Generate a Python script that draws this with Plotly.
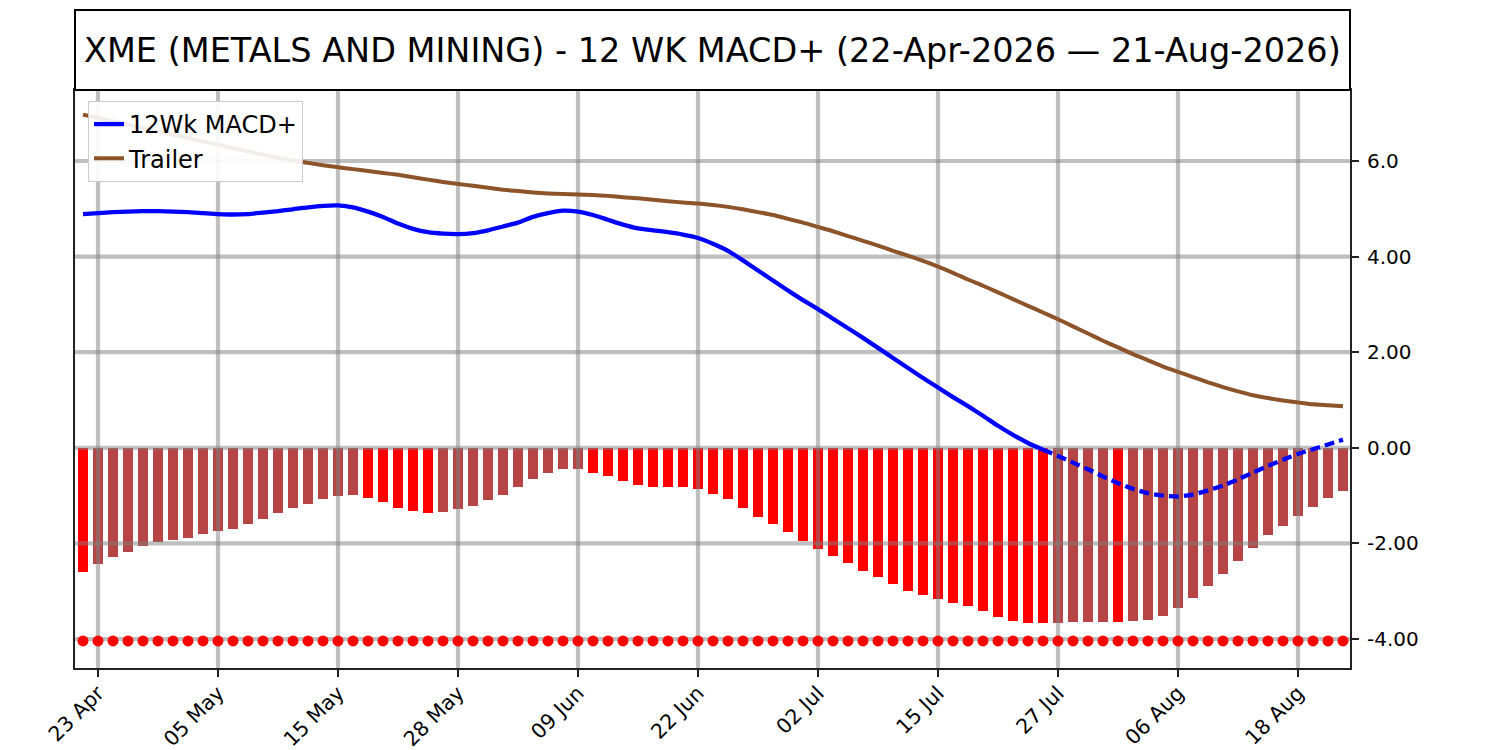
import pandas as pd
import plotly.graph_objects as go

# trading days 22 Apr - 21 Aug 2026 (market holidays removed)
holidays = ["2026-05-25", "2026-06-19", "2026-07-03"]
dates = pd.bdate_range("2026-04-22", "2026-08-21")
dates = dates[~dates.isin(pd.to_datetime(holidays))]

macd = [4.89, 4.91, 4.93, 4.94, 4.95, 4.95, 4.94, 4.93, 4.91, 4.89,
        4.88, 4.89, 4.92, 4.95, 4.99, 5.03, 5.06, 5.07, 5.03, 4.94,
        4.83, 4.69, 4.58, 4.51, 4.48, 4.47, 4.49, 4.55, 4.63, 4.71,
        4.83, 4.91, 4.96, 4.94, 4.87, 4.77, 4.67, 4.59, 4.55, 4.51,
        4.46, 4.39, 4.27, 4.12, 3.92, 3.71, 3.50, 3.29, 3.09, 2.90,
        2.70, 2.50, 2.30, 2.09, 1.88, 1.67, 1.46, 1.26, 1.06, 0.87,
        0.67, 0.46, 0.27, 0.10, -0.04, -0.17, -0.31, -0.45, -0.60, -0.74,
        -0.86, -0.95, -1.00, -1.02, -0.98, -0.89, -0.79, -0.66, -0.52, -0.38,
        -0.25, -0.13, -0.03, 0.07, 0.17]

trailer = [6.97, 6.90, 6.83, 6.76, 6.69, 6.62, 6.55, 6.48, 6.41, 6.34,
           6.27, 6.20, 6.13, 6.07, 6.01, 5.96, 5.91, 5.87, 5.83, 5.79,
           5.75, 5.71, 5.66, 5.61, 5.56, 5.52, 5.48, 5.44, 5.40, 5.37,
           5.34, 5.32, 5.31, 5.30, 5.29, 5.27, 5.24, 5.22, 5.19, 5.16,
           5.13, 5.11, 5.08, 5.04, 4.99, 4.93, 4.87, 4.79, 4.71, 4.62,
           4.53, 4.43, 4.33, 4.23, 4.12, 4.02, 3.91, 3.79, 3.66, 3.52,
           3.39, 3.25, 3.11, 2.97, 2.83, 2.69, 2.54, 2.39, 2.24, 2.10,
           1.96, 1.83, 1.70, 1.59, 1.48, 1.37, 1.27, 1.18, 1.10, 1.04,
           0.99, 0.95, 0.91, 0.89, 0.87]

hist = [-2.59, -2.44, -2.29, -2.17, -2.06, -1.98, -1.92, -1.88, -1.81, -1.75,
        -1.69, -1.60, -1.48, -1.37, -1.27, -1.17, -1.08, -1.00, -0.99, -1.04,
        -1.14, -1.25, -1.33, -1.37, -1.35, -1.29, -1.21, -1.10, -0.98, -0.81,
        -0.66, -0.52, -0.45, -0.44, -0.52, -0.60, -0.70, -0.77, -0.81, -0.82,
        -0.83, -0.87, -0.96, -1.08, -1.25, -1.44, -1.60, -1.77, -1.94, -2.11,
        -2.27, -2.42, -2.57, -2.71, -2.86, -2.99, -3.09, -3.17, -3.24, -3.32,
        -3.42, -3.55, -3.63, -3.665, -3.675, -3.67, -3.65, -3.645, -3.64, -3.645,
        -3.63, -3.61, -3.51, -3.36, -3.15, -2.90, -2.65, -2.36, -2.09, -1.83,
        -1.63, -1.42, -1.23, -1.06, -0.91]

signal_level = -4.04
dash_from = 64  # projected part of the MACD line

y_ticks = [6, 4, 2, 0, -2, -4]
y_labels = ["6.0", "4.00", "2.00", "0.00", "-2.00", "-4.00"]

x = list(range(len(dates)))
tick_idx = x[1::8]
tick_text = [dates[i].strftime("%d %b") for i in tick_idx]

x_range = [-0.533, 84.467]
y_range = [-4.607, 7.485]

# falling bars red, rising bars brown
bar_colors = []
for i, v in enumerate(hist):
    if i == 0 or v < hist[i - 1]:
        bar_colors.append("#ff0000")
    else:
        bar_colors.append("#b84545")

fig = go.Figure()

fig.add_trace(go.Bar(x=x, y=hist, width=0.72, marker_color=bar_colors,
                     marker_line_width=0, showlegend=False, hoverinfo="skip"))

# grid drawn over the bars, under the lines
gx, gy = [], []
for t in tick_idx:
    gx += [t, t, None]
    gy += [y_range[0], y_range[1], None]
hx, hy = [], []
for v in y_ticks:
    hx += [x_range[0], x_range[1], None]
    hy += [v, v, None]
grid_style = dict(color="rgba(128,128,128,0.5)", width=4.2)
fig.add_trace(go.Scatter(x=gx, y=gy, mode="lines", line=grid_style,
                         showlegend=False, hoverinfo="skip"))
fig.add_trace(go.Scatter(x=hx, y=hy, mode="lines", line=grid_style,
                         showlegend=False, hoverinfo="skip"))

fig.add_trace(go.Scatter(x=x, y=[signal_level] * len(x), mode="markers",
                         marker=dict(color="#ff0000", size=11),
                         showlegend=False, hoverinfo="skip"))

fig.add_trace(go.Scatter(x=x, y=trailer, mode="lines", name="Trailer",
                         line=dict(color="#8c5428", width=4, shape="spline", smoothing=0.6),
                         legendrank=2))
fig.add_trace(go.Scatter(x=x[:dash_from + 1], y=macd[:dash_from + 1], mode="lines",
                         name="12Wk MACD+",
                         line=dict(color="#0000ff", width=4.3, shape="spline", smoothing=0.6),
                         legendrank=1))
fig.add_trace(go.Scatter(x=x[dash_from:], y=macd[dash_from:], mode="lines",
                         line=dict(color="#0000ff", width=4.3, dash="10px,5px",
                                   shape="spline", smoothing=0.6),
                         showlegend=False))

title = "XME (METALS AND MINING) - 12 WK MACD+ (22-Apr-2026 \u2014 21-Aug-2026)"
box_top = 1 + 80 / 578
fig.add_shape(type="rect", xref="paper", yref="paper", x0=0, x1=1, y0=1, y1=box_top,
              line=dict(color="#000000", width=2), fillcolor="white", layer="above")
fig.add_annotation(text=title, xref="paper", yref="paper", x=0.5, y=(1 + box_top) / 2,
                   showarrow=False, font=dict(size=33.5, color="black"),
                   xanchor="center", yanchor="middle")

axis_common = dict(showgrid=False, zeroline=False, showline=True, mirror=True,
                   linecolor="#222222", linewidth=2, ticks="outside", ticklen=7,
                   tickwidth=1.5, tickcolor="#222222", automargin=False)

# page body margin pushes the figure by 8px; margins set so the plot box lands at 75..1350 / 90..668
fig.update_layout(
    width=1500, height=750,
    margin=dict(l=67, r=158, t=82, b=90),
    paper_bgcolor="white", plot_bgcolor="white",
    font=dict(family="DejaVu Sans", color="black"),
    bargap=0,
    xaxis=dict(range=x_range, tickvals=tick_idx, ticktext=tick_text, tickangle=-45,
               tickfont=dict(size=20.5), ticklabelstandoff=-4, **axis_common),
    yaxis=dict(range=y_range, side="right", tickvals=y_ticks, ticktext=y_labels,
               tickfont=dict(size=20), ticklabelstandoff=4, **axis_common),
    legend=dict(x=0.0102, y=0.981, xanchor="left", yanchor="top",
                bgcolor="rgba(255,255,255,0.9)", bordercolor="#cccccc", borderwidth=1,
                font=dict(size=24), itemwidth=30),
    showlegend=True,
)

fig.write_html("out.html")
